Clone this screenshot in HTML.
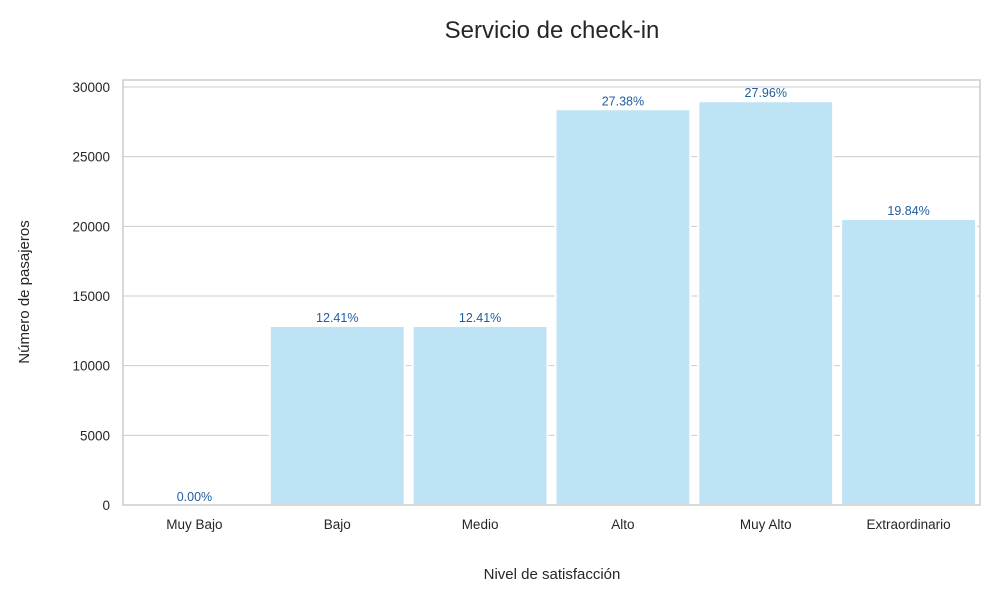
<!DOCTYPE html>
<html><head><meta charset="utf-8"><style>
body{margin:0;background:#fff;font-family:"Liberation Sans",Arial,sans-serif}
svg text{font-family:"Liberation Sans",Arial,sans-serif}
</style></head><body>
<svg id="chart" width="1000" height="600">
<text x="552" y="38" text-anchor="middle" font-size="24" fill="#262626">Servicio de check-in</text>
<g id="grid"></g><g id="bars"></g><g id="labels"></g><g id="axes"></g>
<text x="552" y="579" text-anchor="middle" font-size="15" fill="#262626">Nivel de satisfacción</text>
<text transform="translate(29,292) rotate(-90)" text-anchor="middle" font-size="15" fill="#262626">Número de pasajeros</text>
</svg>
<script>
const categories=["Muy Bajo","Bajo","Medio","Alto","Muy Alto","Extraordinario"];
const values=[0,12850,12850,28400,28980,20530];
const pctLabels=["0.00%","12.41%","12.41%","27.38%","27.96%","19.84%"];
const yTicks=[0,5000,10000,15000,20000,25000,30000];
const L=123,R=980,T=80,B=505;
const NS="http://www.w3.org/2000/svg";
const y=v=>B-v*(B-87)/30000;
const bw=(R-L)/categories.length;
const x=i=>L+i*bw;
function mk(t,a,p){const e=document.createElementNS(NS,t);for(const k in a)e.setAttribute(k,a[k]);document.getElementById(p).appendChild(e);return e;}
yTicks.forEach(v=>{
 const g=mk('line',{x1:L,x2:R,y1:y(v),y2:y(v),stroke:'#cccccc','stroke-width':1},'grid');
 
 
 const t=mk('text',{x:L-13,y:y(v)+5,'text-anchor':'end','font-size':13.5,fill:'#262626'},'axes');
 t.textContent=v;
 
 
});
categories.forEach((c,i)=>{
 const r=mk('rect',{x:x(i)+4,y:y(values[i]),width:bw-8,height:B-y(values[i]),fill:'#bde3f4',stroke:'#fff','stroke-width':2},'bars');
 
 
 const l=mk('text',{x:x(i)+bw/2,y:y(values[i])-4,'text-anchor':'middle','font-size':12.5,fill:'#1f5fa0'},'labels');
 l.textContent=pctLabels[i];
 
 
 const t=mk('text',{x:x(i)+bw/2,y:B+24,'text-anchor':'middle','font-size':13.5,fill:'#262626'},'axes');
 t.textContent=c;
 
 
});
const f=mk('rect',{x:L,y:T,width:R-L,height:B-T,fill:'none',stroke:'#cccccc','stroke-width':1.5},'axes');


</script>
</body></html>
